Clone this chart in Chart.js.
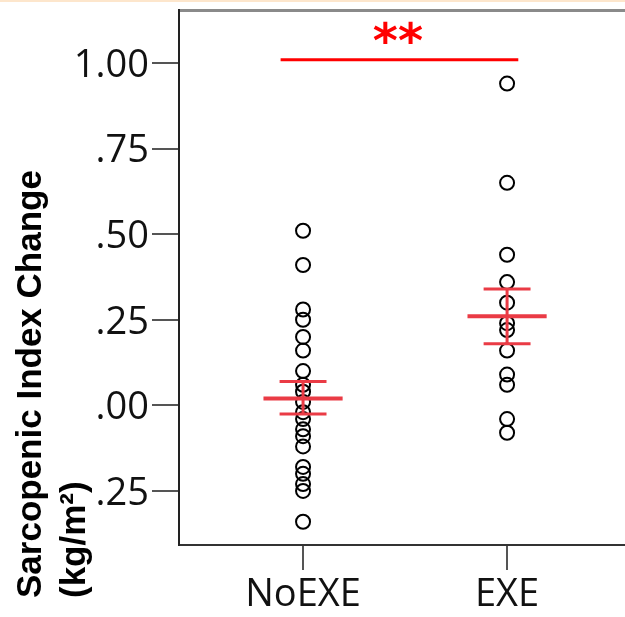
<!DOCTYPE html>
<html><head><meta charset="utf-8">
<script src="https://cdn.jsdelivr.net/npm/chart.js@4"></script>
<style>
html,body{margin:0;padding:0;background:#fff;overflow:hidden;width:625px;height:617px}
#topline{position:absolute;left:0;top:0;width:625px;height:2px;background:#fde6cc}
canvas{position:absolute;left:0;top:0}
</style></head><body>
<div id="topline"></div>
<canvas id="c" width="625" height="617"></canvas>
<script>
// ---- data ----
const categories = ['NoEXE', 'EXE'];
const noExeValues = [0.51, 0.41, 0.28, 0.25, 0.20, 0.16, 0.10, 0.06, 0.04, 0.01,
                     -0.02, -0.04, -0.07, -0.09, -0.12, -0.18, -0.20, -0.23, -0.25, -0.34];
const exeValues = [0.94, 0.65, 0.44, 0.36, 0.30, 0.24, 0.22, 0.16, 0.09, 0.06, -0.04, -0.08];
const groupMeans = [0.02, 0.26];
const seUpper = [0.07, 0.34];
const seLower = [-0.025, 0.18];
const yTickValues = [-0.25, 0, 0.25, 0.5, 0.75, 1.0];
const yTickLabels = ['.25', '.00', '.25', '.50', '.75', '1.00'];
const sigFrom = 0.89, sigTo = 2.055, sigValue = 1.01, sigLabel = '**', sigLabelAt = 1.465;
const yTitleLines = ['Sarcopenic Index Change', '(kg/m\u00B2)'];

// ---- styles ----
const RED_BAR = '#ea3b45';
const MEAN_HALF = 0.194, CAP_HALF = 0.115;

const meanData = [];
const seData = [];
groupMeans.forEach((m, i) => {
  const x = i + 1;
  meanData.push({x: x - MEAN_HALF, y: m}, {x: x + MEAN_HALF, y: m}, {x: x, y: null});
  seData.push({x: x - CAP_HALF, y: seUpper[i]}, {x: x + CAP_HALF, y: seUpper[i]}, {x: x, y: null});
  seData.push({x: x - CAP_HALF, y: seLower[i]}, {x: x + CAP_HALF, y: seLower[i]}, {x: x, y: null});
  seData.push({x: x, y: seLower[i]}, {x: x, y: seUpper[i]}, {x: x, y: null});
});

const pointStyle = {pointRadius: 7, pointHoverRadius: 7, borderWidth: 2,
  borderColor: '#000', backgroundColor: 'rgba(0,0,0,0)', pointStyle: 'circle'};

const extras = {
  id: 'extras',
  afterDraw(chart) {
    const ctx = chart.ctx;
    const xs = chart.scales.x, ys = chart.scales.y;
    ctx.save();
    ctx.fillStyle = '#ff0000';
    ctx.font = 'bold 48px "DejaVu Sans"';
    ctx.textAlign = 'center';
    ctx.textBaseline = 'alphabetic';
    ctx.fillText(sigLabel, xs.getPixelForValue(sigLabelAt), ys.getPixelForValue(sigValue) - 3);
    ctx.restore();
    ctx.save();
    ctx.fillStyle = '#000';
    ctx.font = 'bold 35px "Liberation Sans"';
    ctx.textAlign = 'left';
    ctx.textBaseline = 'alphabetic';
    const baseX = [41, 85];
    yTitleLines.forEach((t, i) => {
      ctx.save();
      ctx.translate(baseX[i], 598);
      ctx.rotate(-Math.PI / 2);
      ctx.fillText(t, 0, 0);
      ctx.restore();
    });
    ctx.restore();
  }
};

new Chart(document.getElementById('c'), {
  type: 'scatter',
  data: {
    datasets: [
      {data: [{x: sigFrom, y: sigValue}, {x: sigTo, y: sigValue}], showLine: true,
       borderColor: '#ff0000', borderWidth: 3, pointRadius: 0, pointHoverRadius: 0, clip: false},
      {data: meanData, showLine: true, spanGaps: false, borderColor: RED_BAR, borderWidth: 4,
       pointRadius: 0, pointHoverRadius: 0, borderCapStyle: 'butt'},
      {data: seData, showLine: true, spanGaps: false, borderColor: RED_BAR, borderWidth: 3,
       pointRadius: 0, pointHoverRadius: 0, borderCapStyle: 'butt'},
      Object.assign({data: noExeValues.map(v => ({x: 1, y: v}))}, pointStyle),
      Object.assign({data: exeValues.map(v => ({x: 2, y: v}))}, pointStyle)
    ]
  },
  options: {
    responsive: false,
    animation: false,
    devicePixelRatio: 1,
    layout: {autoPadding: false, padding: {left: 0, right: 0, top: 10, bottom: 0}},
    plugins: {legend: {display: false}, tooltip: {enabled: false}},
    scales: {
      x: {
        type: 'linear', position: 'bottom', min: 0.392, max: 2.578,
        afterBuildTicks: s => { s.ticks = categories.map((c, i) => ({value: i + 1})); },
        afterFit: s => { s.height = 72; s.paddingLeft = 0; s.paddingRight = 0; },
        ticks: {callback: v => categories[v - 1], color: '#111', padding: 2,
                font: {family: '"Open Sans"', size: 38}, maxRotation: 0, autoSkip: false},
        grid: {drawOnChartArea: false, drawTicks: true, tickLength: 25, color: '#555', lineWidth: 2},
        border: {display: true, color: '#333', width: 2}
      },
      x2: {
        type: 'linear', position: 'top', min: 0.392, max: 2.578,
        afterFit: s => { s.height = 0; s.paddingLeft = 0; s.paddingRight = 0; },
        ticks: {display: false},
        grid: {drawOnChartArea: false, drawTicks: false},
        border: {display: true, color: '#8a8a8a', width: 3}
      },
      y: {
        type: 'linear', position: 'left', min: -0.408, max: 1.155,
        afterBuildTicks: s => { s.ticks = yTickValues.map(v => ({value: v})); },
        afterFit: s => { s.width = 179; s.paddingTop = 0; s.paddingBottom = 0; },
        ticks: {callback: (v) => yTickLabels[yTickValues.indexOf(v)], color: '#111', padding: 3,
                labelOffset: 3, font: {family: '"Open Sans"', size: 38}},
        grid: {drawOnChartArea: false, drawTicks: true, tickLength: 27, color: '#555', lineWidth: 2},
        border: {display: true, color: '#222', width: 2}
      }
    }
  },
  plugins: [extras]
});
</script>
</body></html>
